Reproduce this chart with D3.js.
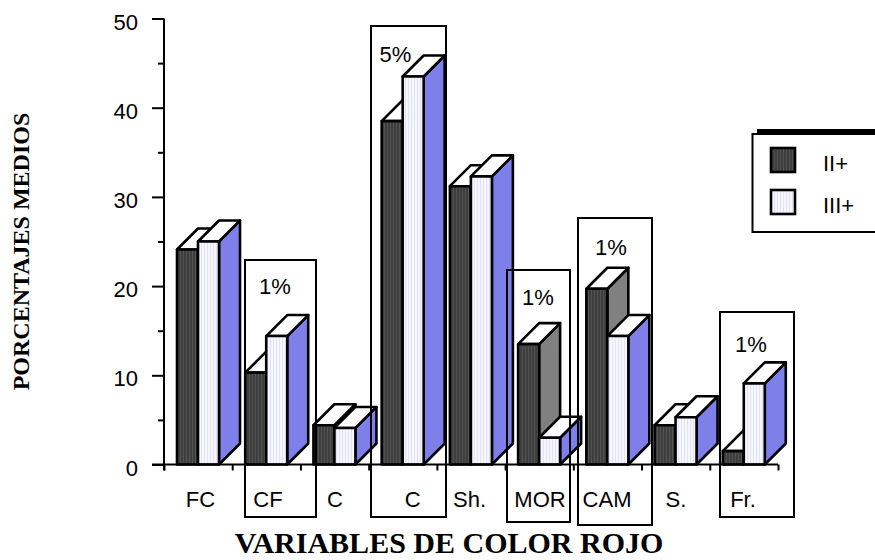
<!DOCTYPE html>
<html>
<head>
<meta charset="utf-8">
<script src="https://cdn.jsdelivr.net/npm/d3@7"></script>
<style>
body { margin:0; background:#fff; }
svg { display:block; }
text { font-family:"Liberation Sans", Arial, sans-serif; fill:#000; }
</style>
</head>
<body>
<div id="chart-area"></div>
<script>
// data
var categories = ["FC", "CF", "C", "C", "Sh.", "MOR", "CAM", "S.", "Fr."];
var seriesNames = ["II+", "III+"];
var seriesII = [24.1, 10.3, 4.4, 38.5, 31.2, 13.5, 19.7, 4.4, 1.5];
var seriesIII = [25, 14.4, 4.1, 43.5, 32.3, 3, 14.4, 5.3, 9.1];
var yMajorTicks = [0, 10, 20, 30, 40, 50];
var yAllTicks = [0, 5, 10, 15, 20, 25, 30, 35, 40, 45, 50];
var noteLabels = ["1%", "5%", "1%", "1%", "1%"];

// layout
var plot = { left:164, right:778, top:18.5, bottom:464.5 };
var depth = 21;
var fontSize = 22;
var labelNudge = [2.4, 1.7, 0.4, 10, -1.5, 0.8, -0.4, 0.3, -0.9];
var noteBoxes = [
  { x0:245, x1:316, y0:260, y1:517, tx:275, ty:294 },
  { x0:371, x1:446, y0:26, y1:517, tx:395.5, ty:62 },
  { x0:507, x1:570, y0:270, y1:522, tx:538, ty:305 },
  { x0:578, x1:652, y0:218, y1:525, tx:611, ty:255 },
  { x0:720, x1:794, y0:312, y1:517, tx:751, ty:352 }
];

var canvas = d3.select("#chart-area")
  .append("svg")
  .attr("width", 875)
  .attr("height", 560);

// bar textures
var defs = canvas.append("defs");
var darkPat = defs.append("pattern").attr("id", "darkFill")
  .attr("width", 3).attr("height", 3).attr("patternUnits", "userSpaceOnUse");
darkPat.append("rect").attr("width", 3).attr("height", 3).attr("fill", "#3e3e3e");
darkPat.append("rect").attr("width", 1).attr("height", 3).attr("fill", "#525252");
var lightPat = defs.append("pattern").attr("id", "lightFill")
  .attr("width", 3).attr("height", 3).attr("patternUnits", "userSpaceOnUse");
lightPat.append("rect").attr("width", 3).attr("height", 3).attr("fill", "#f6f6ff");
lightPat.append("rect").attr("width", 1).attr("height", 3).attr("fill", "#e2e2fa");

// scales
var xScale = d3.scaleBand()
  .domain(d3.range(categories.length))
  .range([plot.left, plot.right]);
var xInner = d3.scaleBand()
  .domain([0, 1])
  .range([13, 55]);
var yScale = d3.scaleLinear()
  .domain([0, 50])
  .range([plot.bottom, plot.top]);

// bars
var series = [
  { values:seriesII, front:"url(#darkFill)", side:"#808080" },
  { values:seriesIII, front:"url(#lightFill)", side:"#7f7fea" }
];
var bw = xInner.bandwidth();
var bars = canvas.append("g").attr("stroke", "#000").attr("stroke-width", 2.6).attr("stroke-linejoin", "round");

categories.forEach((c, i) => {
  series.forEach((s, k) => {
    var x = xScale(i) + xInner(k);
    var y = yScale(s.values[i]);
    var g = bars.append("g");
    g.append("path")
      .attr("fill", s.side)
      .attr("d", d3.line()([[x + bw, plot.bottom], [x + bw + depth, plot.bottom - depth], [x + bw + depth, y - depth], [x + bw, y]]) + "Z");
    g.append("path")
      .attr("fill", "#fff")
      .attr("d", d3.line()([[x, y], [x + depth, y - depth], [x + bw + depth, y - depth], [x + bw, y]]) + "Z");
    g.append("rect")
      .attr("x", x)
      .attr("y", y)
      .attr("width", bw)
      .attr("height", plot.bottom - y)
      .attr("fill", s.front);
  });
});

// y axis
var yAxis = canvas.append("g")
  .attr("transform", "translate(" + plot.left + ",0)")
  .call(d3.axisLeft(yScale).tickValues(yAllTicks).tickFormat(d => yMajorTicks.includes(d) ? d : "").tickSize(6).tickPadding(20));
yAxis.selectAll("path.domain").attr("stroke-width", 2).attr("d", "M0," + plot.top + "V" + (plot.bottom + 6));
yAxis.selectAll(".tick line")
  .attr("stroke-width", 2)
  .attr("x2", d => yMajorTicks.includes(d) ? -12 : -6);
yAxis.selectAll(".tick text")
  .attr("dy", "0.48em")
  .attr("font-size", fontSize)
  .style("font-family", "'Liberation Sans', Arial, sans-serif");

// x axis
var xAxisScale = d3.scaleLinear().domain([0, categories.length]).range([plot.left, plot.right]);
var xAxis = canvas.append("g")
  .attr("transform", "translate(0," + plot.bottom + ")")
  .call(d3.axisBottom(xAxisScale).ticks(categories.length).tickFormat("").tickSize(6));
xAxis.selectAll("path.domain").attr("stroke-width", 2).attr("d", "M152,0H" + plot.right);
xAxis.selectAll(".tick line").attr("stroke-width", 2);

canvas.append("g").selectAll("text")
  .data(categories)
  .enter()
  .append("text")
  .attr("x", (d, i) => xScale(i) + xScale.bandwidth() / 2 + labelNudge[i])
  .attr("y", 507)
  .attr("font-size", fontSize)
  .attr("text-anchor", "middle")
  .text(d => d);

// significance boxes
noteBoxes.forEach((b, i) => {
  canvas.append("rect")
    .attr("x", b.x0).attr("y", b.y0)
    .attr("width", b.x1 - b.x0).attr("height", b.y1 - b.y0)
    .attr("fill", "none").attr("stroke", "#000").attr("stroke-width", 2);
  canvas.append("text")
    .attr("x", b.tx).attr("y", b.ty)
    .attr("font-size", fontSize)
    .attr("text-anchor", "middle")
    .text(noteLabels[i]);
});

// legend
canvas.append("rect").attr("x", 752.5).attr("y", 134).attr("width", 130).attr("height", 98)
  .attr("fill", "#fff").attr("stroke", "#000").attr("stroke-width", 2);
canvas.append("rect").attr("x", 757).attr("y", 129).attr("width", 118).attr("height", 6).attr("fill", "#000");
seriesNames.forEach((name, i) => {
  var ly = 148 + i * 42;
  canvas.append("rect").attr("x", 771).attr("y", ly).attr("width", 24).attr("height", 24)
    .attr("fill", series[i].front).attr("stroke", "#000").attr("stroke-width", 2.6);
  canvas.append("text").attr("x", 823).attr("y", ly + 23).attr("font-size", fontSize).text(name);
});

// axis titles
canvas.append("text")
  .attr("x", 449).attr("y", 553)
  .attr("text-anchor", "middle")
  .attr("font-size", 30)
  .attr("font-weight", "bold")
  .style("font-family", "'Liberation Serif', 'Times New Roman', serif")
  .text("VARIABLES DE COLOR ROJO");
canvas.append("text")
  .attr("transform", "translate(29,251.5) rotate(-90)")
  .attr("text-anchor", "middle")
  .attr("font-size", 24)
  .attr("font-weight", "bold")
  .style("font-family", "'Liberation Serif', 'Times New Roman', serif")
  .text("PORCENTAJES MEDIOS");
</script>
</body>
</html>
